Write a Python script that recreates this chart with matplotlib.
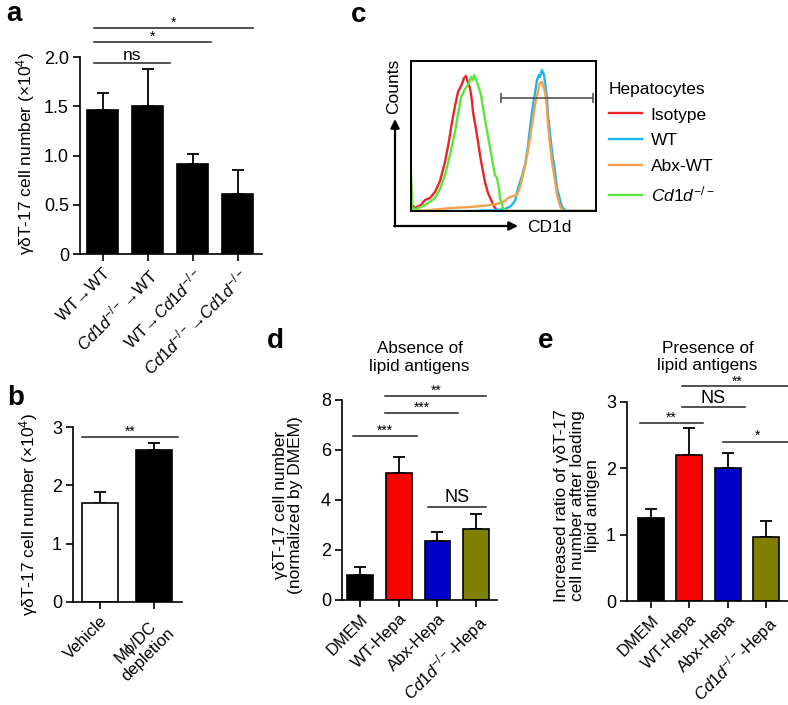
import numpy as np
import matplotlib
matplotlib.use("Agg")
import matplotlib.pyplot as plt

plt.rcParams['font.family'] = ['Liberation Sans', 'DejaVu Sans']
plt.rcParams['mathtext.fontset'] = 'custom'
plt.rcParams['mathtext.rm'] = 'Liberation Sans'
plt.rcParams['mathtext.it'] = 'Liberation Sans:italic'
plt.rcParams['mathtext.bf'] = 'Liberation Sans:bold'
plt.rcParams['axes.linewidth'] = 1.2

# ---------------- data ----------------
CD = r'$\mathit{Cd1d}^{-/-}$'
a_labels = ['WT→WT', CD + '→WT', 'WT→' + CD, CD + '→' + CD]
a_means = [1.46, 1.50, 0.91, 0.61]
a_sem = [0.17, 0.38, 0.11, 0.24]
a_yticks = [0, 0.5, 1.0, 1.5, 2.0]
a_yticklabels = ['0', '0.5', '1.0', '1.5', '2.0']

b_labels = ['Vehicle', 'Mϕ/DC\ndepletion']
b_means = [1.70, 2.60]
b_sem = [0.19, 0.12]
b_yticks = [0, 1, 2, 3]

d_labels = ['DMEM', 'WT-Hepa', 'Abx-Hepa', CD + '-Hepa']
d_means = [1.00, 5.08, 2.36, 2.84]
d_sem = [0.32, 0.64, 0.36, 0.60]
d_yticks = [0, 2, 4, 6, 8]

e_labels = ['DMEM', 'WT-Hepa', 'Abx-Hepa', CD + '-Hepa']
e_means = [1.25, 2.20, 2.01, 0.97]
e_sem = [0.13, 0.41, 0.22, 0.23]
e_yticks = [0, 1, 2, 3]

de_colors = ['#000000', '#FF0000', '#0000C8', '#7F7F00']

# histogram (panel c): CD1d channel vs counts
iso_x = [0, 1, 4, 10, 14, 19, 24, 29, 34, 38, 41, 44, 47, 51, 53, 55, 57, 59, 61, 62, 65, 67, 70, 74, 77, 81, 84, 87, 185]
iso_y = [25, 6, 3, 6, 11, 13, 19, 30, 49, 70, 89, 105, 119, 127, 133, 135, 128, 123, 110, 99, 82, 69, 50, 29, 18, 9, 3, 0, 0]
wt_x = [0, 60, 85, 94, 100, 104, 107, 111, 114, 117, 119, 122, 124, 126, 128, 129, 130, 131, 133, 134, 136, 137, 139, 141, 144, 146, 149, 151, 155, 185]
wt_y = [0, 0, 1, 2, 5, 10, 23, 35, 46, 65, 83, 106, 118, 131, 136, 134, 138, 141, 136, 129, 112, 96, 78, 59, 40, 23, 11, 4, 0, 0]
abx_x = [0, 20, 40, 60, 80, 90, 95, 97, 102, 106, 109, 112, 116, 119, 122, 124, 127, 129, 131, 132, 134, 136, 137, 139, 141, 144, 146, 149, 152, 185]
abx_y = [0, 1, 3, 4, 6, 8, 11, 13, 15, 16, 24, 36, 55, 73, 92, 106, 120, 128, 129, 126, 119, 103, 86, 67, 49, 31, 16, 5, 0, 0]
ko_x = [0, 1, 5, 10, 16, 20, 24, 29, 34, 39, 44, 47, 50, 54, 58, 60, 62, 63, 65, 67, 70, 72, 75, 78, 81, 84, 86, 88, 89, 92, 95, 185]
ko_y = [40, 3, 2, 4, 7, 10, 13, 22, 36, 56, 79, 97, 113, 122, 128, 134, 131, 136, 131, 126, 116, 103, 86, 69, 52, 36, 33, 22, 13, 3, 0, 0]
gate_x = [90, 182]
gate_y = [113, 113]

hist_colors = {'Isotype': '#E8262A', 'WT': '#1EB4EC', 'Abx-WT': '#F4A04C', 'Cd1d': '#5CE63A'}

# ---------------- layout ----------------
W, H = 788, 705
fig = plt.figure(figsize=(W / 100, H / 100), dpi=100)


def px_axes(left, top, right, bottom):
    return fig.add_axes([left / W, 1 - bottom / H, (right - left) / W, (bottom - top) / H])


TICK_FS = 13
XTICK_FS = 12
LAB_FS = 12.5
TITLE_FS = 12.3


def style_bar_axes(ax):
    ax.spines['top'].set_visible(False)
    ax.spines['right'].set_visible(False)
    ax.tick_params(direction='out', length=5, width=1.2, labelsize=TICK_FS, pad=3)


def bars(ax, means, sem, colors, width):
    x = np.arange(len(means))
    ax.bar(x, means, width=width, color=colors, edgecolor='black', linewidth=1.2, zorder=2)
    ax.errorbar(x, means, yerr=[np.zeros(len(sem)), sem], fmt='none', ecolor='black',
                elinewidth=1.3, capsize=4.5, capthick=1.3, zorder=1)
    return x


def sig(ax, x1, x2, y, text, fs=10, off=-1.0):
    ax.plot([x1, x2], [y, y], color='#222222', lw=1.1, clip_on=False)
    ax.annotate(text, xy=((x1 + x2) / 2, y), xytext=(0, off), textcoords='offset points',
                ha='center', va='bottom', fontsize=fs, annotation_clip=False)


def xlabels(ax, x, labels):
    ax.set_xticks(x)
    ax.set_xticklabels(labels, rotation=45, ha='right', rotation_mode='anchor', fontsize=XTICK_FS)


# ---- panel a ----
axa = px_axes(80, 57, 262, 254)
style_bar_axes(axa)
xa = bars(axa, a_means, a_sem, 'black', 0.69)
axa.set_xlim(-0.5, 3.54)
axa.set_ylim(0, 2.0)
axa.set_yticks(a_yticks)
axa.set_yticklabels(a_yticklabels)
xlabels(axa, xa, a_labels)
axa.set_ylabel('γδT-17 cell number (×10$^4$)', fontsize=LAB_FS)
axa.yaxis.set_label_coords(-0.235, 0.51)
sig(axa, -0.2, 1.5, 1.94, 'ns', fs=12.5, off=0)
sig(axa, -0.2, 2.4, 2.15, '*', fs=10)
sig(axa, -0.2, 3.33, 2.29, '*', fs=10)

# ---- panel b ----
axb = px_axes(73, 427, 182, 602)
style_bar_axes(axb)
xb = bars(axb, b_means, b_sem, ['white', 'black'], 0.67)
axb.set_xlim(-0.5, 1.52)
axb.set_ylim(0, 3)
axb.set_yticks(b_yticks)
xlabels(axb, xb, b_labels)
for t in axb.get_xticklabels():
    t.set_multialignment('center')
axb.set_ylabel('γδT-17 cell number (×10$^4$)', fontsize=LAB_FS)
axb.yaxis.set_label_coords(-0.30, 0.50)
sig(axb, -0.33, 1.44, 2.83, '**', fs=10)

# ---- panel d ----
axd = px_axes(342, 400, 497, 600)
style_bar_axes(axd)
xd = bars(axd, d_means, d_sem, de_colors, 0.67)
axd.set_xlim(-0.47, 3.54)
axd.set_ylim(0, 8)
axd.set_yticks(d_yticks)
xlabels(axd, xd, d_labels)
axd.set_ylabel('γδT-17 cell number\n(normalized by DMEM)', fontsize=LAB_FS, linespacing=1.05)
axd.yaxis.set_label_coords(-0.25, 0.475)
axd.set_title('Absence of\nlipid antigens', fontsize=TITLE_FS, pad=21, linespacing=1.2)
sig(axd, -0.18, 1.47, 6.56, '***', fs=10)
sig(axd, 0.65, 2.53, 7.48, '***', fs=10)
sig(axd, 0.65, 3.26, 8.16, '**', fs=10)
sig(axd, 1.76, 3.26, 3.72, 'NS', fs=13, off=1)

# ---- panel e ----
axe = px_axes(627, 402, 788, 601)
style_bar_axes(axe)
xe = bars(axe, e_means, e_sem, de_colors, 0.68)
axe.set_xlim(-0.63, 3.58)
axe.set_ylim(0, 3)
axe.set_yticks(e_yticks)
xlabels(axe, xe, e_labels)
axe.set_ylabel('Increased ratio of γδT-17\ncell number after loading\nlipid antigen', fontsize=LAB_FS, linespacing=1.05)
axe.yaxis.set_label_coords(-0.165, 0.48)
axe.set_title('Presence of\nlipid antigens', fontsize=TITLE_FS, pad=23, linespacing=1.2)
sig(axe, -0.29, 1.36, 2.68, '**', fs=10)
sig(axe, 0.81, 2.45, 2.93, 'NS', fs=13, off=0)
sig(axe, 0.81, 3.7, 3.24, '**', fs=10, off=-2)
sig(axe, 1.88, 3.7, 2.40, '*', fs=10)

# ---- panel c ----
axc = px_axes(411, 61, 596, 211)
lines = []
lines.append(axc.plot(iso_x, iso_y, color=hist_colors['Isotype'], lw=1.7, label='Isotype')[0])
lines.append(axc.plot(wt_x, wt_y, color=hist_colors['WT'], lw=1.7, label='WT')[0])
lines.append(axc.plot(abx_x, abx_y, color=hist_colors['Abx-WT'], lw=1.7, label='Abx-WT')[0])
lines.append(axc.plot(ko_x, ko_y, color=hist_colors['Cd1d'], lw=1.7, label=r'$\mathit{Cd1d}^{-/-}$')[0])
axc.plot(gate_x, gate_y, color='#555555', lw=1.2, marker='|', markersize=7, markeredgewidth=1.2)
axc.set_xlim(0, 185)
axc.set_ylim(0, 150)
axc.set_xticks([])
axc.set_yticks([])
for s in axc.spines.values():
    s.set_linewidth(1.4)
leg = axc.legend(handles=lines, title='Hepatocytes', loc='upper left',
                 bbox_to_anchor=(609 / W, 1 - 82 / H), bbox_transform=fig.transFigure,
                 frameon=False, fontsize=LAB_FS, title_fontsize=LAB_FS,
                 handlelength=1.9, handletextpad=0.5, labelspacing=0.6, borderpad=0,
                 borderaxespad=0)
leg._legend_box.align = 'left'

# overlay for arrows and panel letters
ov = fig.add_axes([0, 0, 1, 1])
ov.set_xlim(0, W)
ov.set_ylim(H, 0)
ov.axis('off')
arrow_kw = dict(arrowstyle='-|>', color='black', lw=1.6, mutation_scale=13, shrinkA=0, shrinkB=0)
ov.annotate('', xy=(395, 119), xytext=(395, 226.5), arrowprops=arrow_kw)
ov.annotate('', xy=(518, 226), xytext=(394.2, 226), arrowprops=arrow_kw)
ov.text(394, 86, 'Counts', rotation=90, ha='center', va='center', fontsize=LAB_FS)
ov.text(527, 227, 'CD1d', ha='left', va='center', fontsize=LAB_FS)

for letter, (lx, ly) in {'a': (14, 14), 'b': (16, 398), 'c': (359, 15), 'd': (275, 341), 'e': (546, 341)}.items():
    ov.text(lx, ly, letter, fontsize=20, fontweight='bold', ha='center', va='center')

fig.savefig('out.png', dpi=100)
